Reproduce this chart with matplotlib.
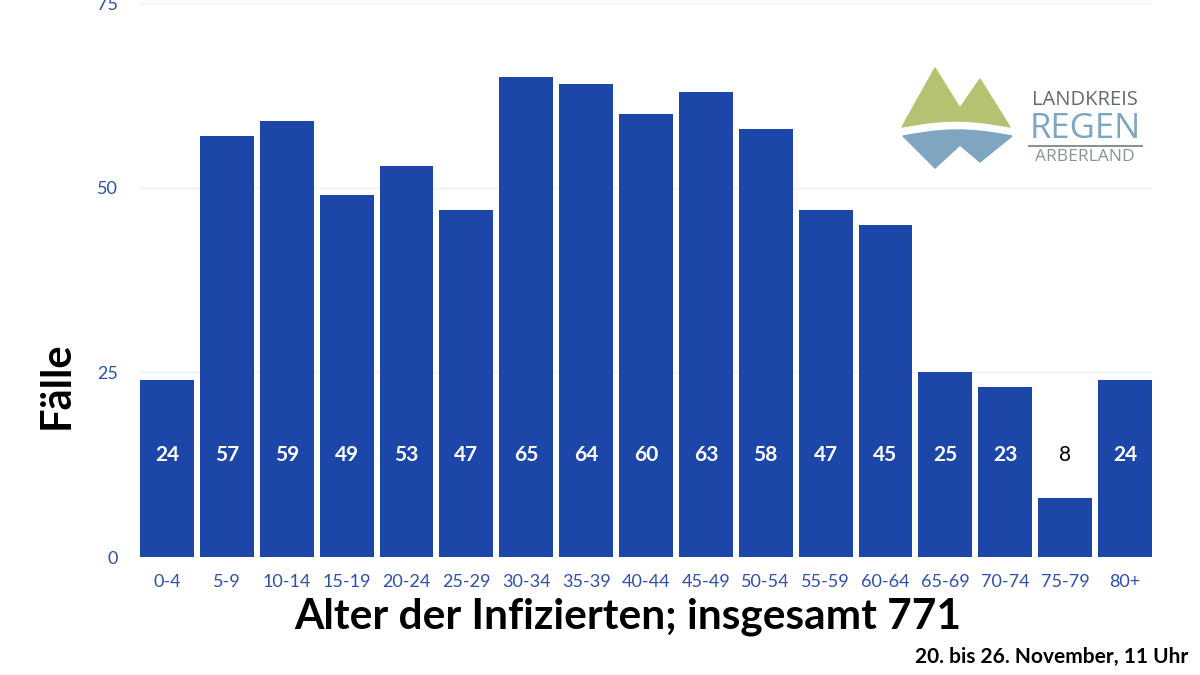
import matplotlib
matplotlib.use("Agg")
import matplotlib.pyplot as plt
from matplotlib.patches import Polygon
import numpy as np

age_groups = ['0-4', '5-9', '10-14', '15-19', '20-24', '25-29', '30-34', '35-39',
              '40-44', '45-49', '50-54', '55-59', '60-64', '65-69', '70-74', '75-79', '80+']
cases = [24, 57, 59, 49, 53, 47, 65, 64, 60, 63, 58, 47, 45, 25, 23, 8, 24]

bar_color = '#1c47a8'
tick_color = '#2d4fb0'

plt.rcParams['font.family'] = ['Lato', 'DejaVu Sans']

fig = plt.figure(figsize=(12, 6.75), dpi=100)
ax = fig.add_axes([140 / 1200, 1 - 557 / 675, 1012 / 1200, 554 / 675])

x = np.arange(len(cases))
ax.bar(x, cases, width=0.9, color=bar_color, zorder=3)
ax.set_xlim(-0.45, len(cases) - 0.55)
ax.set_ylim(0, 75)
ax.set_yticks([0, 25, 50, 75])
ax.set_xticks(x)
ax.set_xticklabels(age_groups)
ax.grid(axis='y', color='#eef0f5', linewidth=1, zorder=0)
for s in ax.spines.values():
    s.set_visible(False)
ax.tick_params(axis='both', length=0, colors=tick_color, labelsize=13)
ax.tick_params(axis='y', pad=16)
ax.tick_params(axis='x', pad=12)

# value labels: inside the bar at a fixed height, above it when the bar is short
for xi, v in zip(x, cases):
    if v > 16:
        ax.text(xi, 13.8, str(v), ha='center', va='center', color='white',
                fontsize=15, fontweight='bold')
    else:
        ax.text(xi, 13.8, str(v), ha='center', va='center', color='black',
                fontsize=15)

fig.text(0.047, 1 - 385 / 675, 'Fälle', rotation=90, ha='center', va='center',
         fontsize=30, fontweight='bold', color='black')
fig.text(628 / 1200, 1 - 617 / 675, 'Alter der Infizierten; insgesamt 771',
         ha='center', va='center', fontsize=30.5, fontweight='bold', color='black')
fig.text(1188 / 1200, 1 - 657 / 675, '20. bis 26. November, 11 Uhr',
         ha='right', va='center', fontsize=15, fontweight='bold', color='black')

# logo
lax = fig.add_axes([0, 0, 1, 1], zorder=5)
lax.set_xlim(0, 1200)
lax.set_ylim(675, 0)
lax.axis('off')
green = '#b5c272'
blue = '#7ea6c1'
wx = np.linspace(1010, 902, 40)
wy = 127 - 6 * np.sin((wx - 902) / 108 * np.pi)
green_poly = [(935, 68), (960, 108), (980, 79)] + list(zip(wx, wy))
lax.add_patch(Polygon(green_poly, closed=True, color=green))
bx = np.linspace(903, 1012, 40)
by = 136 - 6 * np.sin((bx - 903) / 109 * np.pi)
blue_poly = list(zip(bx, by)) + [(980, 162), (960, 145), (935, 168)]
lax.add_patch(Polygon(blue_poly, closed=True, color=blue))
lax.text(1085, 100, 'LANDKREIS', ha='center', va='center', fontsize=14.5,
         color='#5f6b70', family=['Open Sans', 'DejaVu Sans'])
lax.text(1085, 129, 'REGEN', ha='center', va='center', fontsize=25,
         color=blue, family=['Open Sans', 'DejaVu Sans'])
lax.plot([1029, 1142], [146, 146], color='#8a9296', linewidth=1.5)
lax.text(1085, 157, 'ARBERLAND', ha='center', va='center', fontsize=12.5,
         color='#8a9296', family=['Open Sans', 'DejaVu Sans'])

fig.savefig('out.png', dpi=100)
